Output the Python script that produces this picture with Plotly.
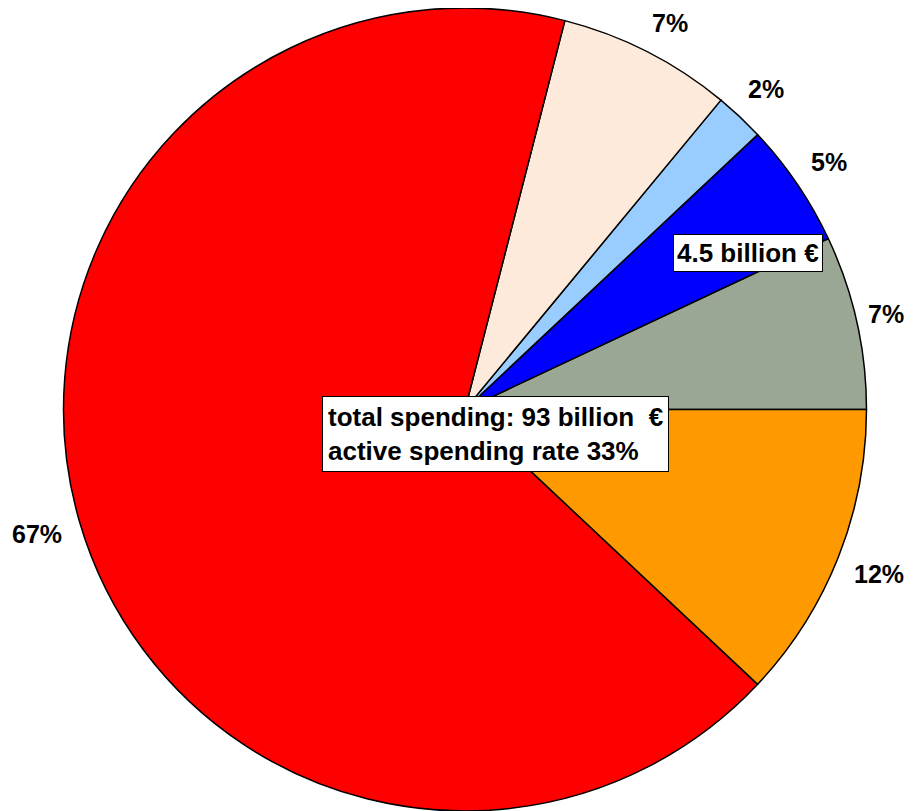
import math
import plotly.graph_objects as go

# Data (shares in %), counterclockwise starting at 3 o'clock
categories = ["Category A", "Category B (4.5 billion €)", "Category C", "Category D", "Passive spending", "Category E"]
values = [7, 5, 2, 7, 67, 12]
pct_labels = ["7%", "5%", "2%", "7%", "67%", "12%"]
colors = ["#9AA795", "#0000FF", "#99CCFF", "#FDEADA", "#FF0000", "#FF9900"]
total_text = "total spending: 93 billion&nbsp;&nbsp;€<br>active spending rate 33%"
blue_text = "4.5 billion €"

# the page body has an 8px margin, so the figure starts at (8, 8) in the window
OFF = 8
W, H = 913 - OFF, 811 - OFF
plot_w, plot_h = W, H
R_px = plot_h / 2.0
cx_px = 465.0 - OFF
cy_px = plot_h / 2.0
dom_x = [(cx_px - R_px) / plot_w, (cx_px + R_px) / plot_w]
FS = 26
LFS = 25

tot = sum(values)
# plotly places the first slice clockwise of `rotation` when counterclockwise
rotation = 90 - 360.0 * values[0] / tot

fig = go.Figure(go.Pie(
    labels=categories, values=values, sort=False, direction="counterclockwise",
    rotation=rotation, textinfo="none", hoverinfo="label+percent",
    marker=dict(colors=colors, line=dict(color="black", width=1.5)),
    domain=dict(x=dom_x, y=[0, 1]), showlegend=False,
))

font = dict(family="Liberation Sans, Arial, sans-serif", size=FS, color="black")
cw = {"%": 0.889}


def text_w(s):
    return LFS * sum(cw.get(c, 0.556) for c in s)


annotations = []
cum = 0.0
gap = 17.0
for v, t in zip(values, pct_labels):
    mid = (cum + v / 2.0) / tot * 2 * math.pi
    cum += v
    c, s = math.cos(mid), math.sin(mid)
    w = text_w(t)
    half = abs(c) * w / 2 + abs(s) * LFS / 2
    rr = R_px + gap + half
    dx, dy = rr * c, rr * s  # dy upward
    # keep label inside the visible area (slide along the circle)
    ymax_up = cy_px - (LFS / 2 + 2)
    if dy > ymax_up:
        dy = ymax_up
        dx = math.copysign(math.sqrt(max(rr * rr - dy * dy, 0)), c)
    xmax_r = (W - OFF) - cx_px - w / 2 - 1
    if dx > xmax_r:
        dx = xmax_r
    x = (cx_px + dx) / plot_w
    y = 0.5 + dy / plot_h
    annotations.append(dict(x=x, y=y, xref="paper", yref="paper", text="<b>%s</b>" % t,
                            showarrow=False, font=dict(font, size=LFS), xanchor="center", yanchor="middle"))

# center box
annotations.append(dict(x=(322 - OFF) / plot_w, y=1 - (396 - OFF) / plot_h, xref="paper", yref="paper",
                        text="<b>%s</b>" % total_text, showarrow=False, font=font,
                        xanchor="left", yanchor="top", align="left",
                        bgcolor="white", bordercolor="black", borderwidth=1, borderpad=5))
# blue box
annotations.append(dict(x=(748 - OFF) / plot_w, y=1 - (252.5 - OFF) / plot_h, xref="paper", yref="paper",
                        text="<b>%s</b>" % blue_text, showarrow=False, font=font,
                        xanchor="center", yanchor="middle",
                        bgcolor="white", bordercolor="black", borderwidth=1, borderpad=3))

fig.update_layout(width=W, height=H, margin=dict(l=0, r=0, t=0, b=0),
                  paper_bgcolor="white", plot_bgcolor="white", annotations=annotations)
fig.write_html("out.html")
